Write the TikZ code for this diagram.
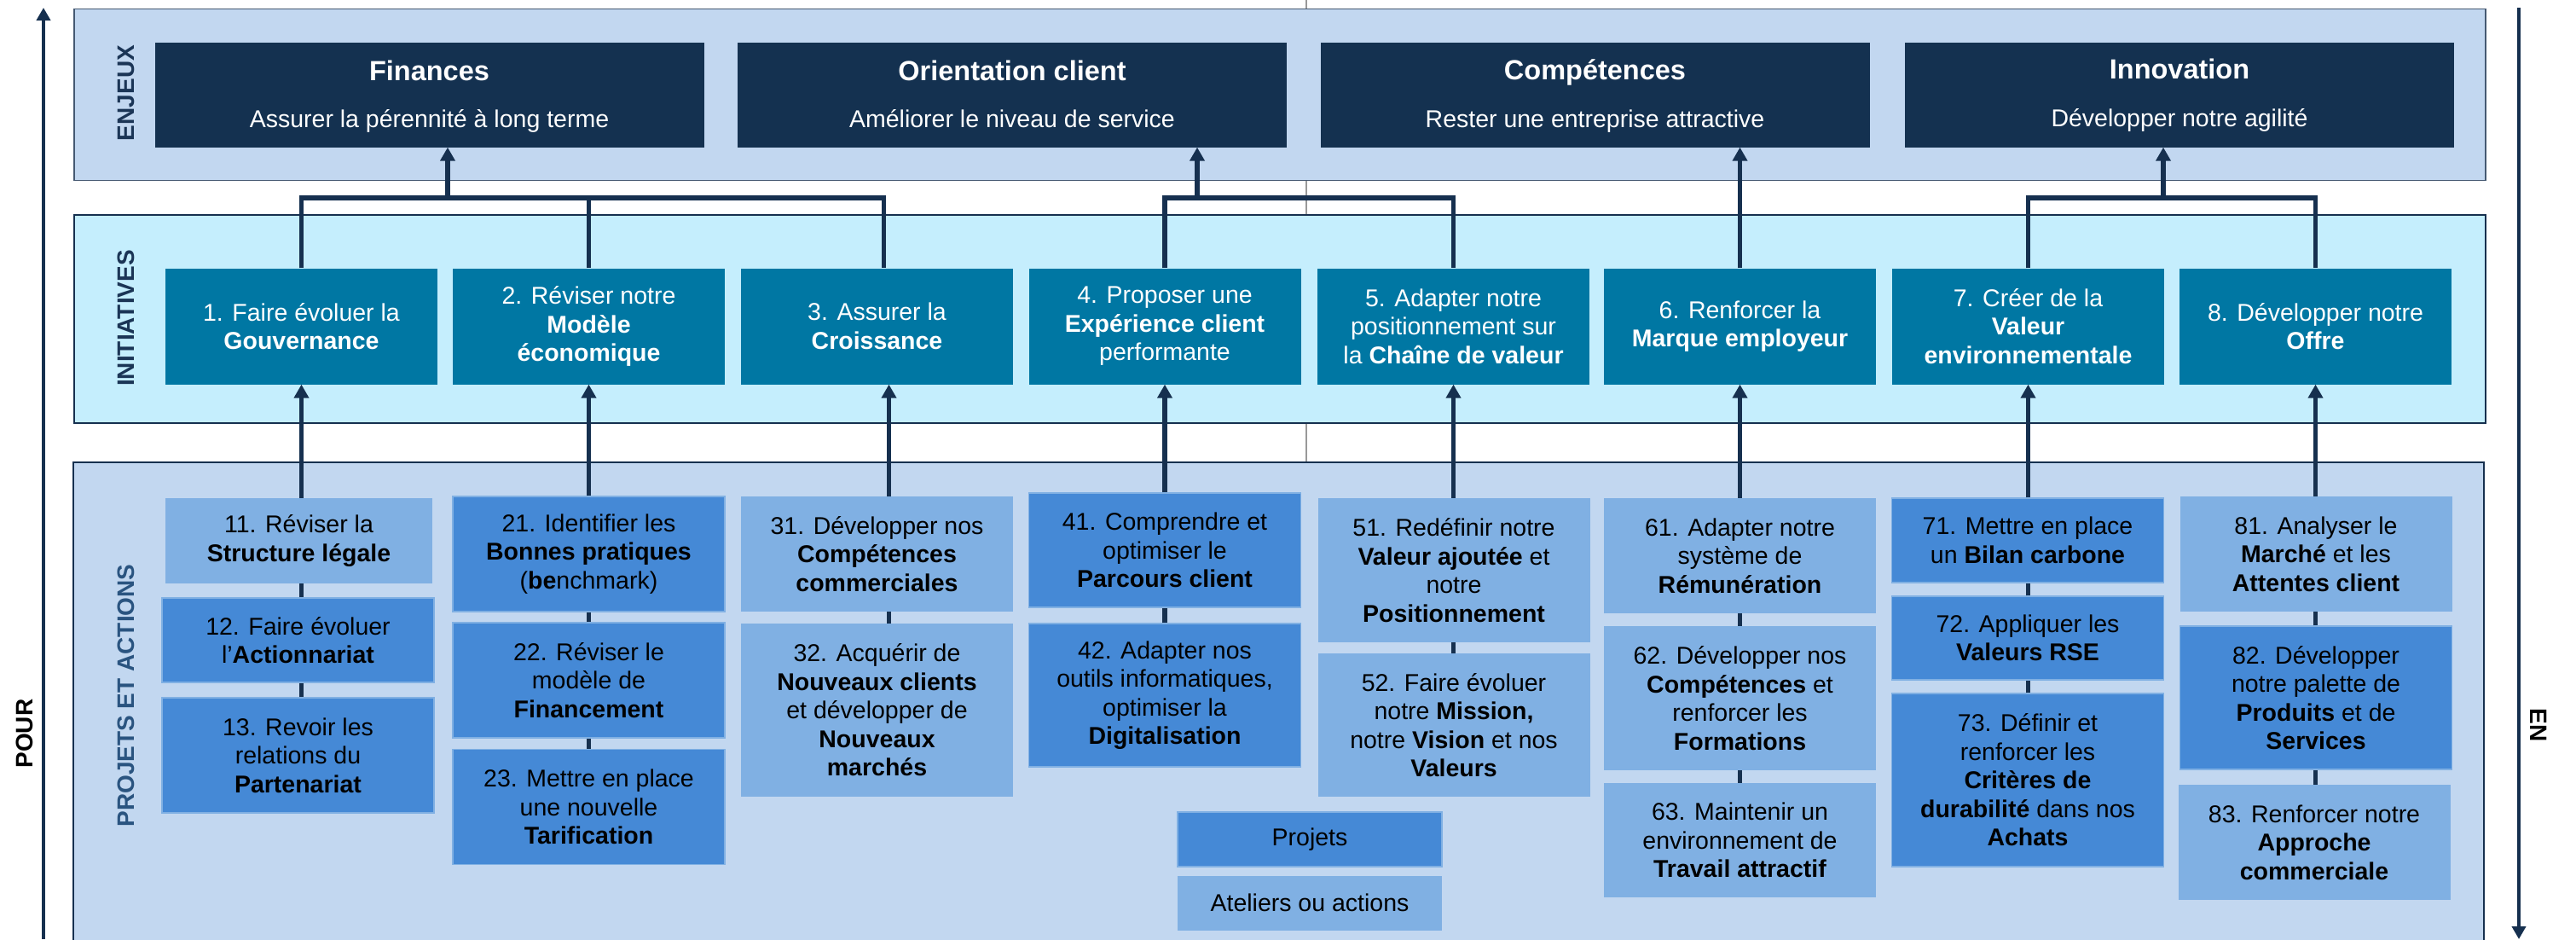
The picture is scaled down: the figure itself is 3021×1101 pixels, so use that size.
\documentclass[tikz,border=0pt]{standalone}
\usepackage{fontspec}
\setmainfont{Liberation Sans}
\usepackage{tikz}
\usetikzlibrary{arrows.meta,calc}
\definecolor{BandBlue}{HTML}{C2D7F0}
\definecolor{BandCyan}{HTML}{C5EEFD}
\definecolor{EnjeuNavy}{HTML}{143150}
\definecolor{InitTeal}{HTML}{0077A3}
\definecolor{ProjetBlue}{HTML}{4589D6}
\definecolor{AtelierBlue}{HTML}{80B0E3}
\definecolor{LineNavy}{HTML}{16304F}
\definecolor{LabelNavy}{HTML}{1B3556}
\definecolor{LabelBlue}{HTML}{2A5480}

\begin{document}
\begin{tikzpicture}[x=1pt,y=-1pt,
    bodyfont/.style={font=\fontsize{28.5}{33.5}\selectfont},
    bandlabel/.style={rotate=90,text=LabelNavy,font=\fontsize{28}{33}\selectfont\bfseries},
    sidelabel/.style={font=\fontsize{28}{33}\selectfont\bfseries},
    enjeu/.style={fill=EnjeuNavy,minimum width=644,minimum height=123,inner sep=0},
    enjeutitre/.style={anchor=base,text=white,font=\fontsize{32.5}{38}\selectfont\bfseries},
    enjeutexte/.style={anchor=base,text=white,bodyfont},
    initiative/.style={fill=InitTeal,text=white,bodyfont,align=center,minimum width=319,minimum height=136,inner sep=0},
    projet/.style={fill=ProjetBlue,draw=AtelierBlue,line width=1.5pt,bodyfont,align=center,minimum width=319,inner sep=0},
    atelier/.style={fill=AtelierBlue,bodyfont,align=center,minimum width=319,inner sep=0},
    trait/.style={draw=LineNavy,line width=5.5pt},
    fleche/.style={trait,-{Triangle[length=16pt,width=17pt]}},
  ]
    \useasboundingbox (0,0) rectangle (3021,1101);

    % axe central
    \coordinate (axehaut) at (1532,0);
    \coordinate (axebas) at (1532,1101);
    \draw[gray!80,line width=1.5pt] (axehaut) -- (axebas);

    % bandes
    \draw[fill=BandBlue,draw=LineNavy!80,line width=1.5pt] (87,10.5) rectangle (2915,211.5);
    \draw[fill=BandCyan,draw=LineNavy,line width=2.5pt] (87,252) rectangle (2915,496);
    \draw[fill=BandBlue,draw=LineNavy,line width=2.5pt] (86,542) rectangle (2913,1115);

    \node[bandlabel] (lenjeux) at (148,109) {ENJEUX};
    \node[bandlabel] (linit) at (148,373) {INITIATIVES};
    \node[bandlabel,text=LabelBlue] (lprojets) at (148,815.5) {PROJETS ET ACTIONS};

    % fleches laterales
    \coordinate (pourbas) at (51,1101);
    \coordinate (pourhaut) at (51,9);
    \draw[trait,-{Triangle[length=15pt,width=16pt]},line width=4.5pt] (pourbas) -- (pourhaut);
    \node[sidelabel,rotate=90] (pour) at (29,860) {POUR};
    \coordinate (enhaut) at (2954,9);
    \coordinate (enbas) at (2954,1101);
    \draw[trait,-{Triangle[length=15pt,width=16pt]},line width=4.5pt] (enhaut) -- (enbas);
    \node[sidelabel,rotate=-90] (en) at (2977,850) {EN};

    % enjeux
    \node[enjeu] (fin) at (503.5,111) {};
    \node[enjeutitre] (fintitre) at ($(fin.north)+(0,45.5)$) {Finances};
    \node[enjeutexte] (fintexte) at ($(fin.north)+(0,100.5)$) {Assurer la pérennité à long terme};
    \node[enjeu] (ori) at (1187,111) {};
    \node[enjeutitre] (orititre) at ($(ori.north)+(0,45.5)$) {Orientation client};
    \node[enjeutexte] (oritexte) at ($(ori.north)+(0,100.5)$) {Améliorer le niveau de service};
    \node[enjeu] (comp) at (1870.5,111) {};
    \node[enjeutitre] (comptitre) at ($(comp.north)+(0,44)$) {Compétences};
    \node[enjeutexte] (comptexte) at ($(comp.north)+(0,100.5)$) {Rester une entreprise attractive};
    \node[enjeu] (inno) at (2556,111) {};
    \node[enjeutitre] (innotitre) at ($(inno.north)+(0,43)$) {Innovation};
    \node[enjeutexte] (innotexte) at ($(inno.north)+(0,99.5)$) {Développer notre agilité};

    % initiatives
    \node[initiative] (i1) at (353.5,382.5) {1. Faire évoluer la\\\textbf{Gouvernance}};
    \node[initiative] (i2) at (690.5,382.5) {2. Réviser notre\\\textbf{Modèle}\\\textbf{économique}};
    \node[initiative] (i3) at (1028.5,382.5) {3. Assurer la\\\textbf{Croissance}};
    \node[initiative] (i4) at (1366,382.5) {4. Proposer une\\\textbf{Expérience client}\\performante};
    \node[initiative] (i5) at (1704.5,382.5) {5. Adapter notre\\positionnement sur\\la \textbf{Chaîne de valeur}};
    \node[initiative] (i6) at (2040.5,382.5) {6. Renforcer la\\\textbf{Marque employeur}};
    \node[initiative] (i7) at (2378.5,382.5) {7. Créer de la\\\textbf{Valeur}\\\textbf{environnementale}};
    \node[initiative] (i8) at (2715.5,382.5) {8. Développer notre\\\textbf{Offre}};

    % projets et actions
    \node[atelier,minimum width=313,minimum height=100] (p11) at (350.5,634) {11. Réviser la\\\textbf{Structure légale}};
    \node[projet,minimum height=99] (p12) at (349.5,750.5) {12. Faire évoluer\\l’\textbf{Actionnariat}};
    \node[projet,minimum height=135] (p13) at (349.5,885.5) {13. Revoir les\\relations du\\\textbf{Partenariat}};

    \node[projet,minimum height=135] (p21) at (690.5,649.5) {21. Identifier les\\\textbf{Bonnes pratiques}\\(\textbf{be}nchmark)};
    \node[projet,minimum height=135] (p22) at (690.5,797.5) {22. Réviser le\\modèle de\\\textbf{Financement}};
    \node[projet,minimum height=135] (p23) at (690.5,946) {23. Mettre en place\\une nouvelle\\\textbf{Tarification}};

    \node[atelier,minimum height=135] (p31) at (1028.5,649.5) {31. Développer nos\\\textbf{Compétences}\\\textbf{commerciales}};
    \node[atelier,minimum height=203] (p32) at (1028.5,832.5) {32. Acquérir de\\\textbf{Nouveaux clients}\\et développer de\\\textbf{Nouveaux}\\\textbf{marchés}};

    \node[projet,minimum height=134] (p41) at (1366,645) {41. Comprendre et\\optimiser le\\\textbf{Parcours client}};
    \node[projet,minimum height=168] (p42) at (1366,815) {42. Adapter nos\\outils informatiques,\\optimiser la\\\textbf{Digitalisation}};

    \node[atelier,minimum height=169] (p51) at (1705,668.5) {51. Redéfinir notre\\\textbf{Valeur ajoutée} et\\notre\\\textbf{Positionnement}};
    \node[atelier,minimum height=168] (p52) at (1705,850) {52. Faire évoluer\\notre \textbf{Mission,}\\notre \textbf{Vision} et nos\\\textbf{Valeurs}};

    \node[atelier,minimum height=135] (p61) at (2040.5,651.5) {61. Adapter notre\\système de\\\textbf{Rémunération}};
    \node[atelier,minimum height=169] (p62) at (2040.5,818.5) {62. Développer nos\\\textbf{Compétences} et\\renforcer les\\\textbf{Formations}};
    \node[atelier,minimum height=134] (p63) at (2040.5,985) {63. Maintenir un\\environnement de\\\textbf{Travail attractif}};

    \node[projet,minimum height=99] (p71) at (2378,633.5) {71. Mettre en place\\un \textbf{Bilan carbone}};
    \node[projet,minimum height=98] (p72) at (2378,748) {72. Appliquer les\\\textbf{Valeurs RSE}};
    \node[projet,minimum height=203] (p73) at (2378,914.5) {73. Définir et\\renforcer les\\\textbf{Critères de}\\\textbf{durabilité} dans nos\\\textbf{Achats}};

    \node[atelier,minimum height=135] (p81) at (2716,649.5) {81. Analyser le\\\textbf{Marché} et les\\\textbf{Attentes client}};
    \node[projet,minimum height=168] (p82) at (2716,818) {82. Développer\\notre palette de\\\textbf{Produits} et de\\\textbf{Services}};
    \node[atelier,minimum height=135] (p83) at (2714,987.5) {83. Renforcer notre\\\textbf{Approche}\\\textbf{commerciale}};

    % legende
    \node[projet,minimum width=310,minimum height=64] (legprojet) at (1536,984) {Projets};
    \node[atelier,minimum width=310,minimum height=64] (legatelier) at (1536,1058.5) {Ateliers ou actions};

    % liens initiatives -> enjeux
    \coordinate (finbar) at (525,232);
    \coordinate (oribar) at (1404,232);
    \coordinate (innobar) at (2537,232);
    \draw[trait] (i1.north) |- ([xshift=8pt]i3.north |- finbar) -- ([xshift=8pt]i3.north);
    \draw[trait] (i2.north) -- (i2.north |- finbar);
    \draw[fleche] (finbar) -- (finbar |- fin.south);
    \draw[trait] (i4.north) |- (i5.north |- oribar) -- (i5.north);
    \draw[fleche] (oribar) -- (oribar |- ori.south);
    \draw[fleche] (i6.north) -- (i6.north |- comp.south);
    \draw[trait] (i7.north) |- (i8.north |- innobar) -- (i8.north);
    \draw[fleche] (innobar) -- (innobar |- inno.south);

    % liens projets -> initiatives
    \draw[fleche] (i1.south |- p11.north) -- (i1.south);
    \draw[trait] (i1.south |- p12.north) -- (i1.south |- p11.south);
    \draw[trait] (i1.south |- p13.north) -- (i1.south |- p12.south);
    \draw[fleche] (i2.south |- p21.north) -- (i2.south);
    \draw[trait] (i2.south |- p22.north) -- (i2.south |- p21.south);
    \draw[trait] (i2.south |- p23.north) -- (i2.south |- p22.south);
    \draw[fleche] ([xshift=14pt]i3.south |- p31.north) -- ([xshift=14pt]i3.south);
    \draw[trait] ([xshift=14pt]i3.south |- p32.north) -- ([xshift=14pt]i3.south |- p31.south);
    \draw[fleche] (i4.south |- p41.north) -- (i4.south);
    \draw[trait] (i4.south |- p42.north) -- (i4.south |- p41.south);
    \draw[fleche] (i5.south |- p51.north) -- (i5.south);
    \draw[trait] (i5.south |- p52.north) -- (i5.south |- p51.south);
    \draw[fleche] (i6.south |- p61.north) -- (i6.south);
    \draw[trait] (i6.south |- p62.north) -- (i6.south |- p61.south);
    \draw[trait] (i6.south |- p63.north) -- (i6.south |- p62.south);
    \draw[fleche] (i7.south |- p71.north) -- (i7.south);
    \draw[trait] (i7.south |- p72.north) -- (i7.south |- p71.south);
    \draw[trait] (i7.south |- p73.north) -- (i7.south |- p72.south);
    \draw[fleche] (i8.south |- p81.north) -- (i8.south);
    \draw[trait] (i8.south |- p82.north) -- (i8.south |- p81.south);
    \draw[trait] (i8.south |- p83.north) -- (i8.south |- p82.south);
\end{tikzpicture}
\end{document}
